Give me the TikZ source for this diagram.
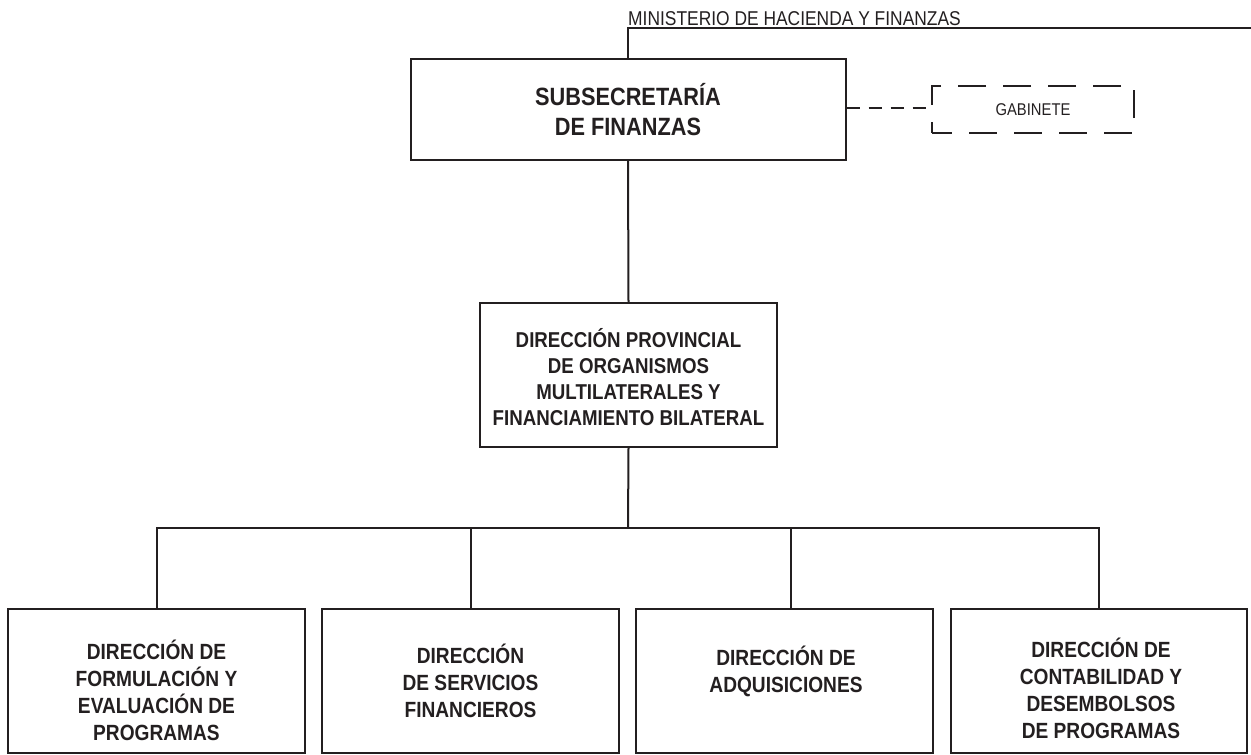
\documentclass[tikz,border=0pt]{standalone}
\usepackage{fontspec}
\setmainfont{Liberation Sans}
\newfontfamily\orgfont{Liberation Sans}[FakeStretch=0.87]
\definecolor{ink}{HTML}{231F20}
\begin{document}
\begin{tikzpicture}[x=1pt,y=-1pt,
  orgbox/.style={draw=ink,line width=2pt,minimum width=297pt,minimum height=144pt,inner sep=0pt},
  conn/.style={draw=ink,line width=2pt},
  dashconn/.style={draw=ink,line width=2pt,dash pattern=on 13pt off 9pt},
  gabbox/.style={draw=ink,line width=2pt,dash pattern=on 28pt off 17pt,dash phase=8pt,minimum width=202pt,minimum height=47pt,inner sep=0pt},
  bigtxt/.style={align=center,text=ink,font=\orgfont\bfseries\fontsize{25}{30}\selectfont,inner sep=0pt},
  midtxt/.style={align=center,text=ink,font=\orgfont\bfseries\fontsize{21.5}{26}\selectfont,inner sep=0pt},
  lowtxt/.style={align=center,text=ink,font=\orgfont\bfseries\fontsize{22}{27}\selectfont,inner sep=0pt}]
\useasboundingbox (0,0) rectangle (1251,755);

% ministerio label
\node[anchor=base west,inner sep=0pt,text=ink,font=\orgfont\fontsize{20}{24}\selectfont] (min) at (628,25) {MINISTERIO DE HACIENDA Y FINANZAS};
\coordinate (mtop) at (628,28);
\coordinate (mend) at (1251,28);

% boxes
\node[orgbox,minimum width=435pt,minimum height=101pt] (sub) at (628,109.5) {};
\node[bigtxt] (subt) at (628,110) {SUBSECRETARÍA\\DE FINANZAS};

\node[gabbox] (gab) at (1033,109.5) {};
\node[inner sep=0pt,text=ink,font=\orgfont\fontsize{17}{20}\selectfont] (gabt) at (1033,110) {GABINETE};

\node[orgbox,minimum width=297pt,minimum height=144pt] (dp) at (628.5,375) {};
\node[midtxt] (dpt) at (628.5,377) {DIRECCIÓN PROVINCIAL\\DE ORGANISMOS\\MULTILATERALES Y\\FINANCIAMIENTO BILATERAL};

\node[orgbox] (b1) at (156.5,681) {};
\node[lowtxt] (b1t) at (156.5,690) {DIRECCIÓN DE\\FORMULACIÓN Y\\EVALUACIÓN DE\\PROGRAMAS};

\node[orgbox] (b2) at (470.5,681) {};
\node[lowtxt] (b2t) at (470.5,681) {DIRECCIÓN\\DE SERVICIOS\\FINANCIEROS};

\node[orgbox] (b3) at (784.5,681) {};
\node[lowtxt] (b3t) at (786,671) {DIRECCIÓN DE\\ADQUISICIONES};

\node[orgbox,minimum width=296pt] (b4) at (1099,681) {};
\node[lowtxt] (b4t) at (1101,688) {DIRECCIÓN DE\\CONTABILIDAD Y\\DESEMBOLSOS\\DE PROGRAMAS};

% connectors
\draw[conn] (sub.north) -- (mtop) -- (mend);
\draw[conn] (sub.south) -- (dp.north);
\draw[dashconn] (sub.east |- 0,108) -- (gab.west |- 0,108);
\coordinate (bus) at (628,528);
\draw[conn] (dp.south) -- (bus);
\draw[conn] (b1.north) -- (b1.north |- bus) -- (b4.north |- bus) -- (b4.north);
\draw[conn] (b2.north) -- (b2.north |- bus);
\draw[conn] ([xshift=6.5pt]b3.north) -- ([xshift=6.5pt]b3.north |- bus);
\end{tikzpicture}
\end{document}
